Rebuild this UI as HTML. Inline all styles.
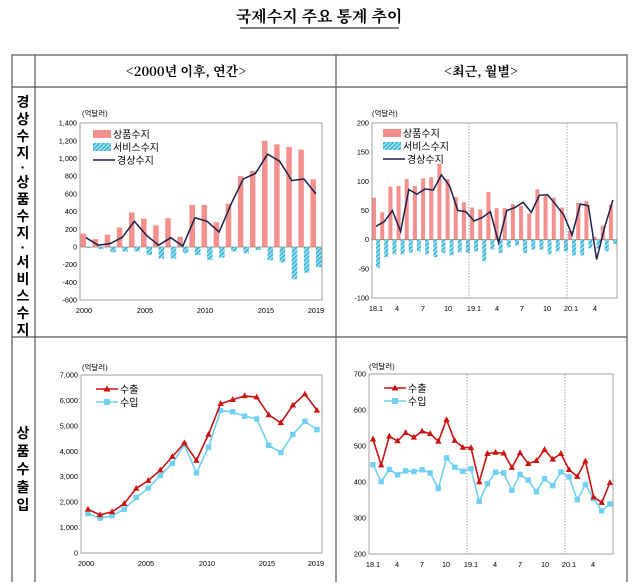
<!DOCTYPE html>
<html><head><meta charset="utf-8"><style>
body{margin:0;background:#fff;width:639px;height:582px;overflow:hidden;font-family:"Liberation Sans","Noto Sans CJK KR",sans-serif}
svg text{font-family:"Liberation Sans","Noto Sans CJK KR",sans-serif}
.t{font-size:7.5px;fill:#000}
</style></head><body>
<svg id="s" width="639" height="582" xmlns="http://www.w3.org/2000/svg">
<defs><pattern id="h" width="3" height="3" patternUnits="userSpaceOnUse" patternTransform="rotate(45)"><rect width="3" height="3" fill="#9ee3f5"/><rect width="1.3" height="3" fill="#2aa9cc"/></pattern></defs>
<text x="319" y="22" text-anchor="middle" font-size="16" font-weight="bold" style="font-family:'Noto Serif CJK SC','Noto Sans CJK KR',serif">국제수지 주요 통계 추이</text>
<line x1="240" y1="28" x2="399" y2="28" stroke="#000" stroke-width="1"/>
<g stroke="#555" stroke-width="1.2" fill="none">
<rect x="12" y="55" width="615" height="530"/>
<line x1="35" y1="55" x2="35" y2="585"/><line x1="336" y1="55" x2="336" y2="585"/>
<line x1="12" y1="87" x2="627" y2="87"/><line x1="12" y1="337" x2="627" y2="337"/>
</g>
<text x="186" y="76" text-anchor="middle" font-size="13" font-weight="bold" style="font-family:'Noto Serif CJK SC',serif">&lt;2000년 이후, 연간&gt;</text>
<text x="481" y="76" text-anchor="middle" font-size="13" font-weight="bold" style="font-family:'Noto Serif CJK SC',serif">&lt;최근, 월별&gt;</text>
<g font-size="14" font-weight="bold" text-anchor="middle" style="font-family:'Noto Serif CJK SC',serif">
<text x="23" y="107">경</text><text x="23" y="124">상</text><text x="23" y="141">수</text><text x="23" y="158">지</text><text x="23" y="172">·</text><text x="23" y="187">상</text><text x="23" y="204">품</text><text x="23" y="221">수</text><text x="23" y="238">지</text><text x="23" y="252">·</text><text x="23" y="267">서</text><text x="23" y="284">비</text><text x="23" y="301">스</text><text x="23" y="318">수</text><text x="23" y="335">지</text>
<text x="23" y="438">상</text><text x="23" y="456">품</text><text x="23" y="474">수</text><text x="23" y="492">출</text><text x="23" y="510">입</text>
</g>
<g class="t">
<text x="82" y="116">(억달러)</text>
<text x="372" y="116">(억달러)</text>
<text x="82" y="370">(억달러)</text>
<text x="369" y="369">(억달러)</text>
</g>
<g id="g"></g>
</svg>
<script>
const NS="http://www.w3.org/2000/svg",G=document.getElementById('g');
function el(n,a,t){const e=document.createElementNS(NS,n);for(const k in a)e.setAttribute(k,a[k]);if(t!==undefined)e.textContent=t;G.appendChild(e);return e}
function pts(xs,ys){return xs.map((x,i)=>x.toFixed(1)+','+ys[i].toFixed(1)).join(' ')}
function axis(x0,x1,y0,y1,ticks,yf,xl){el('rect',{x:x0,y:y0,width:x1-x0,height:y1-y0,fill:'none',stroke:'#888','stroke-width':0.8});
ticks.forEach(v=>{el('text',{x:x0-3,y:yf(v[0])+2.5,'text-anchor':'end','font-size':7.3,fill:'#000'},v[1])});
xl.forEach(v=>el('text',{x:v[0],y:y1+13,'text-anchor':'middle','font-size':7.3,fill:'#000'},v[1]));}
function legend(x,y,items){items.forEach((it,i)=>{const yy=y+i*13;
if(it.t=='bar')el('rect',{x:x,y:yy-4,width:18,height:8,fill:it.c});
else{el('line',{x1:x,y1:yy,x2:x+22,y2:yy,stroke:it.c,'stroke-width':1.6});if(it.m=='tri')el('polygon',{points:`${x+11},${yy-3.5} ${x+7.5},${yy+2.5} ${x+14.5},${yy+2.5}`,fill:it.c});if(it.m=='sq')el('rect',{x:x+8,y:yy-3,width:6,height:6,fill:it.c})}
el('text',{x:x+(it.t=='bar'?20:24),y:yy+4,'font-size':10,fill:'#000'},it.l)})}
function marks(xs,ys,c,m){xs.forEach((x,i)=>{const y=ys[i];if(m=='tri')el('polygon',{points:`${x},${y-3.5} ${x-3.2},${y+2.3} ${x+3.2},${y+2.3}`,fill:c});else el('rect',{x:x-2.7,y:y-2.7,width:5.4,height:5.4,fill:c})})}
(function(){const x0=80,x1=322,y0=123,y1=300,yf=v=>247-v*0.0885,w=(x1-x0)/20;
const gd=[150,90,140,220,390,320,245,325,115,475,475,280,490,800,860,1200,1160,1130,1100,765];
const sv=[-10,-25,-60,-50,-50,-90,-130,-130,-70,-90,-145,-120,-50,-70,-35,-150,-175,-365,-290,-230];
const ca=[105,20,40,110,290,130,20,105,10,330,290,170,490,770,830,1050,970,750,770,600];
const xs=gd.map((_,i)=>x0+w*(i+0.5));
gd.forEach((v,i)=>{el('rect',{x:xs[i]-5.5,y:yf(v),width:5.5,height:yf(0)-yf(v),fill:'#f4908c'});el('rect',{x:xs[i],y:yf(0),width:5.5,height:yf(sv[i])-yf(0),fill:'url(#h)'})});
el('line',{x1:x0,y1:yf(0),x2:x1,y2:yf(0),stroke:'#888','stroke-width':0.8});
el('polyline',{points:pts(xs,ca.map(yf)),fill:'none',stroke:'#1a1f4d','stroke-width':1.5});
const t=[];for(let v=1400;v>=-600;v-=200)t.push([v,v.toLocaleString('en-US')]);
axis(x0,x1,y0,y1,t,yf,[[84,'2000'],[145,'2005'],[205,'2010'],[266,'2015'],[316,'2019']]);
legend(93,134,[{t:'bar',c:'#f4908c',l:'상품수지'},{t:'bar',c:'url(#h)',l:'서비스수지'},{t:'line',c:'#1a1f4d',l:'경상수지'}]);})();
(function(){const x0=372,x1=617,y0=123,y1=298,yf=v=>298-(v+100)*175/300,w=(x1-x0)/30;
const gd=[72,47,91,92,104,92,105,107,130,104,73,64,55,52,82,54,54,61,58,45,86,75,72,55,15,63,66,5,24,60];
const sv=[-48,-30,-25,-25,-22,-20,-25,-30,-23,-27,-22,-23,-20,-37,-17,-23,-13,-10,-23,-17,-17,-25,-20,-20,-27,-27,-15,-15,-20,-7];
const ca=[23,31,50,14,86,78,87,85,111,92,50,48,32,38,48,-5,50,55,64,47,76,77,60,42,8,61,58,-34,22,68];
const xs=gd.map((_,i)=>x0+w*(i+0.5));
gd.forEach((v,i)=>{el('rect',{x:xs[i]-4,y:yf(v),width:4,height:yf(0)-yf(v),fill:'#f4908c'});el('rect',{x:xs[i],y:yf(0),width:4,height:yf(sv[i])-yf(0),fill:'url(#h)'})});
[469,567].forEach(x=>el('line',{x1:x,y1:y0,x2:x,y2:y1,stroke:'#888','stroke-width':0.8,'stroke-dasharray':'1.5,1.5'}));
el('line',{x1:x0,y1:yf(0),x2:x1,y2:yf(0),stroke:'#888','stroke-width':0.8});
el('polyline',{points:pts(xs,ca.map(yf)),fill:'none',stroke:'#1a1f4d','stroke-width':1.5});
axis(x0,x1,y0,y1,[[200,'200'],[150,'150'],[100,'100'],[50,'50'],[0,'0'],[-50,'-50'],[-100,'-100']],yf,[[376,'18.1'],[397,'4'],[423,'7'],[448,'10'],[474,'19.1'],[497,'4'],[522,'7'],[547,'10'],[571,'20.1'],[595,'4']]);
legend(383,133,[{t:'bar',c:'#f4908c',l:'상품수지'},{t:'bar',c:'url(#h)',l:'서비스수지'},{t:'line',c:'#1a1f4d',l:'경상수지'}]);})();
(function(){const x0=81,x1=322,y0=375,y1=553,yf=v=>553-v*178/7000;
const ex=[1720,1500,1620,1940,2540,2850,3260,3790,4330,3640,4660,5870,6030,6180,6130,5430,5120,5810,6250,5610];
const im=[1550,1370,1470,1720,2180,2550,3050,3520,4270,3150,4160,5600,5550,5380,5270,4230,3950,4660,5180,4850];
const xs=ex.map((_,i)=>88+i*12.05);
el('polyline',{points:pts(xs,im.map(yf)),fill:'none',stroke:'#6fd0f2','stroke-width':1.6});marks(xs,im.map(yf),'#6fd0f2','sq');
el('polyline',{points:pts(xs,ex.map(yf)),fill:'none',stroke:'#cc1111','stroke-width':1.6});marks(xs,ex.map(yf),'#cc1111','tri');
const t=[];for(let v=7000;v>=0;v-=1000)t.push([v,v.toLocaleString('en-US')]);
axis(x0,x1,y0,y1,t,yf,[[86,'2000'],[146,'2005'],[207,'2010'],[267,'2015'],[316,'2019']]);
legend(96,389,[{t:'line',c:'#cc1111',m:'tri',l:'수출'},{t:'line',c:'#6fd0f2',m:'sq',l:'수입'}]);})();
(function(){const x0=369,x1=613,y0=374,y1=554,yf=v=>554-(v-200)*0.36;
const ex=[519,447,527,514,537,524,541,534,513,573,515,496,495,400,479,482,480,440,481,451,459,490,463,479,434,415,458,358,343,398];
const im=[448,401,435,420,431,429,434,425,382,467,441,430,437,346,395,427,425,377,421,405,373,409,390,428,414,351,393,354,320,339];
const xs=ex.map((_,i)=>373+i*8.17);
[467,565].forEach(x=>el('line',{x1:x,y1:y0,x2:x,y2:y1,stroke:'#888','stroke-width':0.8,'stroke-dasharray':'1.5,1.5'}));
el('polyline',{points:pts(xs,im.map(yf)),fill:'none',stroke:'#6fd0f2','stroke-width':1.6});marks(xs,im.map(yf),'#6fd0f2','sq');
el('polyline',{points:pts(xs,ex.map(yf)),fill:'none',stroke:'#cc1111','stroke-width':1.6});marks(xs,ex.map(yf),'#cc1111','tri');
axis(x0,x1,y0,y1,[[700,'700'],[600,'600'],[500,'500'],[400,'400'],[300,'300'],[200,'200']],yf,[[373,'18.1'],[397,'4'],[422,'7'],[446,'10'],[471,'19.1'],[495,'4'],[520,'7'],[545,'10'],[569,'20.1'],[593,'4']]);
legend(384,388,[{t:'line',c:'#cc1111',m:'tri',l:'수출'},{t:'line',c:'#6fd0f2',m:'sq',l:'수입'}]);})();
</script>
</body></html>
